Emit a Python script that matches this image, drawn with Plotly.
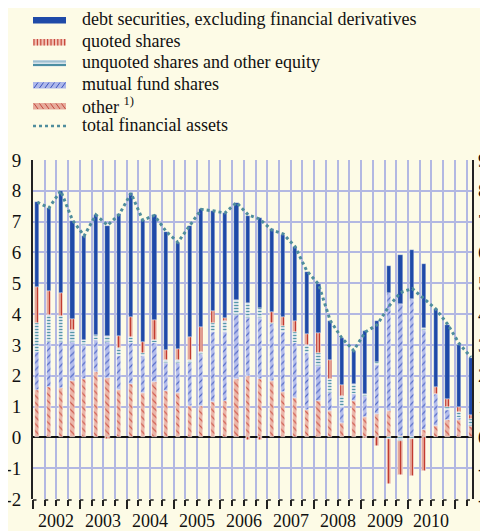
import plotly.graph_objects as go

# ---------------- data (2002 Q1 ... 2011 Q2, quarterly) ----------------
years = ["2002", "2003", "2004", "2005", "2006", "2007", "2008", "2009", "2010"]

other = [1.55, 1.65, 1.59, 1.84, 1.89, 2.11, 1.92, 1.55, 1.73, 1.44, 1.80, 1.49, 1.44, 1.03, 1.03, 1.14, 1.19, 1.90,
         1.98, 1.89, 1.82, 1.47, 1.28, 0.90, 1.17, 0.86, 0.46, 1.19, 0.65, 0.77, 0.86, 0.05, 0.00, 0.25, 0.36, 0.57,
         0.57, 0.36]
mutual = [1.23, 1.45, 1.51, 1.24, 1.11, 1.05, 1.16, 1.10, 1.32, 1.21, 1.26, 0.93, 0.98, 1.39, 1.68, 2.27, 2.22, 2.08,
          1.90, 1.97, 1.85, 1.96, 1.77, 1.84, 1.13, 0.59, 0.54, 0.23, 0.68, 1.59, 3.84, 4.28, 4.48, 3.25, 1.06, 0.33,
          0.05, 0.00]
unquoted = [0.92, 0.87, 0.84, 0.41, 0.16, 0.16, 0.21, 0.25, 0.22, 0.10, 0.11, 0.08, 0.08, 0.10, 0.05, 0.30, 0.36, 0.47,
            0.48, 0.33, 0.05, 0.17, 0.38, 0.26, 0.44, 0.44, 0.33, 0.32, 0.09, 0.07, -0.05, -0.13, -0.05, 0.05, 0.00,
            0.08, 0.19, 0.24]
quoted = [1.17, 0.79, 0.74, 0.34, 0.00, 0.00, -0.05, 0.40, 0.65, 0.33, 0.63, 0.35, 0.36, 0.74, 0.81, 0.40, 0.11, 0.00,
          -0.08, -0.10, 0.35, 0.29, 0.33, 0.35, 0.64, 0.61, 0.38, 0.00, -0.03, -0.27, -1.45, -1.10, -1.21, -1.10, 0.21,
          0.26, 0.19, 0.14]
debt = [2.76, 2.67, 3.32, 3.20, 3.38, 3.90, 3.57, 3.94, 4.00, 3.97, 3.40, 3.83, 3.46, 3.60, 3.83, 3.24, 3.39, 3.17,
        2.82, 2.92, 2.68, 2.68, 2.41, 2.00, 1.59, 1.29, 1.51, 1.05, 2.02, 1.36, 0.87, 1.60, 1.61, 2.08, 2.54, 2.42,
        2.00, 1.84]
total = [7.63, 7.45, 8.00, 7.05, 6.54, 7.22, 6.88, 7.24, 7.92, 7.05, 7.20, 6.68, 6.33, 6.86, 7.40, 7.35, 7.28, 7.62,
         7.22, 7.08, 6.73, 6.60, 6.19, 5.40, 4.97, 3.79, 3.22, 2.82, 3.42, 3.65, 4.25, 4.70, 4.83, 4.50, 4.17, 3.68,
         3.05, 2.60]

y_ticks = [-2, -1, 0, 1, 2, 3, 4, 5, 6, 7, 8, 9]
y_tick_text = ["-2", "-1", "0", "1", "2", "3", "4", "5", "6", "7", "8", "9"]

x = list(range(len(debt)))

# ---------------- style ----------------
FONT = "'Liberation Serif', 'Times New Roman', serif"
BG = "#fdfbe6"
GRID = "#b3b8e2"
C_DEBT = "#1f4aa8"
C_TEAL = "#4f8d9d"

W_FIG, H_FIG = 488, 531
SHIFT = 8  # page body margin of the html output
# plot area in screen pixels
SL, ST, PW, PH = 33, 160, 439, 339
L, T = SL - SHIFT, ST - SHIFT
R = W_FIG - L - PW
B = H_FIG - T - PH
OFF = 0.367  # tick offset relative to bar position (in quarters)


def px(xp):
    return (xp - SL) / PW


def py(yp):
    return (ST + PH - yp) / PH


fig = go.Figure()

series = [
    ("other", other, dict(shape="\\", bgcolor="#ebb6a9", fgcolor="#cf5a4c", size=5, solidity=0.22)),
    ("mutual fund shares", mutual, dict(shape="/", bgcolor="#b4bdec", fgcolor="#5068c6", size=5, solidity=0.22)),
    ("unquoted shares and other equity", unquoted,
     dict(shape="-", bgcolor="#d2dee8", fgcolor="#5597a8", size=3, solidity=0.35)),
    ("quoted shares", quoted, dict(shape="|", bgcolor="#e9b0a2", fgcolor="#c23b2f", size=3, solidity=0.45)),
]
for name, vals, pat in series:
    fig.add_trace(go.Bar(
        x=x, y=vals, name=name, width=0.36,
        marker=dict(color=pat["bgcolor"], pattern=dict(fillmode="replace", **pat),
                    line=dict(color="rgba(255,255,255,0.85)", width=0.5)),
        showlegend=False,
    ))
fig.add_trace(go.Bar(
    x=x, y=debt, name="debt securities, excluding financial derivatives", width=0.36,
    marker=dict(color=C_DEBT, line=dict(color="rgba(255,255,255,0.6)", width=0.5)),
    showlegend=False,
))
fig.add_trace(go.Scatter(
    x=x, y=total, name="total financial assets", mode="lines", yaxis="y2",
    line=dict(color=C_TEAL, width=3, dash="dot"), showlegend=False,
))

shapes = []
annotations = []

# bottom tick stubs ("Γ" shape)
for k in range(len(debt)):
    xt = k - OFF
    shapes.append(dict(type="line", xref="x", yref="paper", x0=xt, x1=xt + 0.3, y0=py(500), y1=py(500),
                       line=dict(color="#222", width=1.5)))

# year labels
for i, yr in enumerate(years):
    annotations.append(dict(text=yr, xref="x", yref="paper", x=4 * i + 2 - OFF, y=py(521),
                            xanchor="center", yanchor="middle", showarrow=False,
                            font=dict(family=FONT, size=18, color="#111")))

# ---------------- manual legend ----------------
SX0, SX1 = 33, 66
legend_rows = [
    ("debt securities, excluding financial derivatives", 20),
    ("quoted shares", 42),
    ("unquoted shares and other equity", 63),
    ("mutual fund shares", 85),
    ("other <sup>1)</sup>", 106),
    ("total financial assets", 126),
]


def prect(x0, x1, y0, y1, fill):
    return dict(type="rect", xref="paper", yref="paper", x0=px(x0), x1=px(x1), y0=py(y1), y1=py(y0),
                fillcolor=fill, line=dict(width=0), layer="above")


def pline(x0, y0, x1, y1, color, width, dash=None):
    d = dict(type="line", xref="paper", yref="paper", x0=px(x0), x1=px(x1), y0=py(y0), y1=py(y1),
             line=dict(color=color, width=width), layer="above")
    if dash:
        d["line"]["dash"] = dash
    return d


# debt
yc = legend_rows[0][1]
shapes.append(prect(SX0, SX1, yc - 3, yc + 3.5, C_DEBT))
# quoted
yc = legend_rows[1][1]
shapes.append(prect(SX0, SX1, yc - 3, yc + 3.5, "#f1c3b6"))
xs = SX0 + 1
while xs < SX1:
    shapes.append(pline(xs, yc - 3, xs, yc + 3.5, "#c8493b", 1.2))
    xs += 3.4
# unquoted
yc = legend_rows[2][1]
shapes.append(prect(SX0, SX1, yc - 3, yc + 3.5, "#d6e2ea"))
shapes.append(pline(SX0, yc - 1.5, SX1, yc - 1.5, "#9fbfd0", 2))
shapes.append(pline(SX0, yc + 2, SX1, yc + 2, "#4c8ea2", 2))
# mutual
yc = legend_rows[3][1]
shapes.append(prect(SX0, SX1, yc - 3, yc + 3.5, "#aeb8ea"))
xs = SX0 + 1
while xs < SX1 - 3:
    shapes.append(pline(xs, yc + 3, xs + 4, yc - 2.5, "#3d55bd", 1))
    xs += 5.5
# other
yc = legend_rows[4][1]
shapes.append(prect(SX0, SX1, yc - 3, yc + 3.5, "#e6ab9c"))
xs = SX0 + 1
while xs < SX1 - 3:
    shapes.append(pline(xs, yc - 2.5, xs + 4, yc + 3, "#c4493e", 1))
    xs += 5.5
# total
yc = legend_rows[5][1]
shapes.append(pline(SX0, yc, SX1, yc, C_TEAL, 2.5, dash="dot"))

for text, yc in legend_rows:
    annotations.append(dict(text=text, xref="paper", yref="paper", x=px(80), y=py(yc - 1),
                            xanchor="left", yanchor="middle", showarrow=False,
                            font=dict(family=FONT, size=18, color="#111")))

axis_font = dict(family=FONT, size=19, color="#111")

fig.update_layout(
    width=W_FIG, height=H_FIG,
    margin=dict(l=L, r=R, t=T, b=B, pad=0, autoexpand=False),
    paper_bgcolor=BG, plot_bgcolor=BG,
    barmode="relative", bargap=0,
    font=dict(family=FONT),
    showlegend=False,
    xaxis=dict(
        range=[-OFF, 37.1], tick0=-OFF, dtick=4, showticklabels=False, automargin=False,
        ticks="outside", ticklen=9, tickwidth=1.5, tickcolor="#222",
        showgrid=True, gridcolor=GRID, gridwidth=2,
        minor=dict(tick0=-OFF, dtick=1, ticks="outside", ticklen=6, tickwidth=1.5, tickcolor="#222",
                   showgrid=True, gridcolor=GRID, gridwidth=2),
        showline=False, zeroline=False,
    ),
    yaxis=dict(
        range=[-2, 9], tickvals=y_ticks, ticktext=y_tick_text, ticks="", tickfont=axis_font,
        ticklabelstandoff=6, automargin=False, ticklabeloverflow="allow",
        showgrid=True, gridcolor=GRID, gridwidth=2,
        zeroline=True, zerolinecolor="#111", zerolinewidth=1.8,
        showline=True, linecolor="#222", linewidth=2, mirror=True,
    ),
    yaxis2=dict(
        range=[-2, 9], tickvals=y_ticks, ticktext=y_tick_text, ticks="", tickfont=axis_font,
        ticklabelstandoff=5, automargin=False, ticklabeloverflow="allow",
        overlaying="y", side="right", showgrid=False, zeroline=False, showline=False,
    ),
    shapes=shapes,
    annotations=annotations,
)

fig.write_html("out.html")
